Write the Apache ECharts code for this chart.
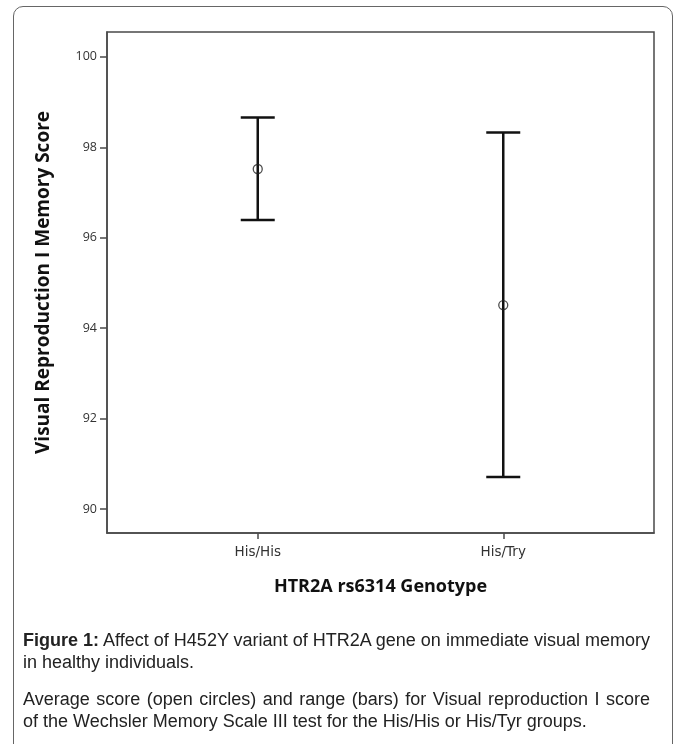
<!DOCTYPE html>
<html>
<head>
<meta charset="utf-8">
<script src="https://cdn.jsdelivr.net/npm/echarts@6.0.0/dist/echarts.min.js"></script>
<style>
  html, body { margin: 0; padding: 0; background: #fff; }
  #page { position: relative; width: 680px; height: 744px; overflow: hidden; }
  #chart { position: absolute; left: 0; top: 0; width: 680px; height: 744px; }
  .frame { position: absolute; left: 13px; top: 6px; width: 660px; height: 760px;
           border: 1.5px solid #666; border-radius: 10px; box-sizing: border-box; }
  .cap { position: absolute; left: 23px; width: 627px; font-family: "Liberation Sans", Arial, sans-serif;
         font-size: 18px; line-height: 22px; color: #222; white-space: nowrap; }
  .full { text-align: justify; text-align-last: justify; }
</style>
</head>
<body>
<div id="page">
  <div class="frame"></div>
  <div id="chart"></div>
  <div class="cap full" style="top:629px"><b>Figure 1:</b> Affect of H452Y variant of HTR2A gene on immediate visual memory</div>
  <div class="cap" style="top:651px">in healthy individuals.</div>
  <div class="cap full" style="top:688px">Average score (open circles) and range (bars) for Visual reproduction I score</div>
  <div class="cap" style="top:710px">of the Wechsler Memory Scale III test for the His/His or His/Tyr groups.</div>
</div>
<script>
// genotype groups and score summary
const categories = ['His/His', 'His/Try']
const means = [97.52, 94.51]
const upper = [98.66, 98.33]
const lower = [96.39, 90.71]
const yTicks = [90, 92, 94, 96, 98, 100]

const myChart = echarts.init(document.getElementById('chart'))

const barData = categories.map((c, i) => [i + 1, upper[i], lower[i]])
const meanData = categories.map((c, i) => [i + 1, means[i]])

const axisCol = '#4a4a4a'

const option = {
  animation: false,
  grid: { left: 107, top: 32, width: 547, height: 501, show: true, borderColor: axisCol, borderWidth: 1.5 },
  xAxis: {
    type: 'value', min: 0.386, max: 2.614,
    name: 'HTR2A rs6314 Genotype', nameLocation: 'middle', nameGap: 45,
    nameTextStyle: { fontFamily: 'Open Sans', fontWeight: 'bold', fontSize: 18, color: '#111' },
    axisLine: { lineStyle: { color: axisCol, width: 1.5 } },
    axisTick: { show: true, length: 6, customValues: [1, 2], lineStyle: { color: axisCol, width: 1.5 } },
    axisLabel: { customValues: [1, 2], formatter: v => categories[Math.round(v) - 1],
                 fontFamily: 'DejaVu Sans', fontSize: 13.5, color: '#333', margin: 12 },
    splitLine: { show: false }
  },
  yAxis: {
    type: 'value', min: 89.47, max: 100.55,
    name: 'Visual Reproduction I Memory Score', nameLocation: 'middle', nameGap: 54,
    nameTextStyle: { fontFamily: 'Open Sans', fontWeight: 'bold', fontSize: 19, color: '#111' },
    axisLine: { lineStyle: { color: axisCol, width: 1.5 } },
    axisTick: { show: true, length: 7, customValues: yTicks, lineStyle: { color: axisCol, width: 1.5 } },
    axisLabel: { customValues: yTicks, fontFamily: 'Open Sans', fontSize: 12.5, color: '#333', margin: 10 },
    splitLine: { show: false }
  },
  series: [
    {
      type: 'custom',
      data: barData,
      renderItem: (params, api) => {
        const x = api.value(0)
        const hi = api.coord([x, api.value(1)])
        const lo = api.coord([x, api.value(2)])
        const half = 17
        const st = { stroke: '#111', lineWidth: 2.5 }
        return {
          type: 'group',
          children: [
            { type: 'line', shape: { x1: hi[0], y1: hi[1], x2: lo[0], y2: lo[1] }, style: st },
            { type: 'line', shape: { x1: hi[0] - half, y1: hi[1], x2: hi[0] + half, y2: hi[1] }, style: st },
            { type: 'line', shape: { x1: lo[0] - half, y1: lo[1], x2: lo[0] + half, y2: lo[1] }, style: st }
          ]
        }
      },
      z: 2
    },
    {
      type: 'scatter',
      data: meanData,
      symbol: 'circle',
      symbolSize: 9,
      itemStyle: { color: 'rgba(0,0,0,0)', borderColor: '#222', borderWidth: 1.3 },
      z: 3
    }
  ]
}

myChart.setOption(option)
window.addEventListener('resize', () => myChart.resize())
</script>
</body>
</html>
